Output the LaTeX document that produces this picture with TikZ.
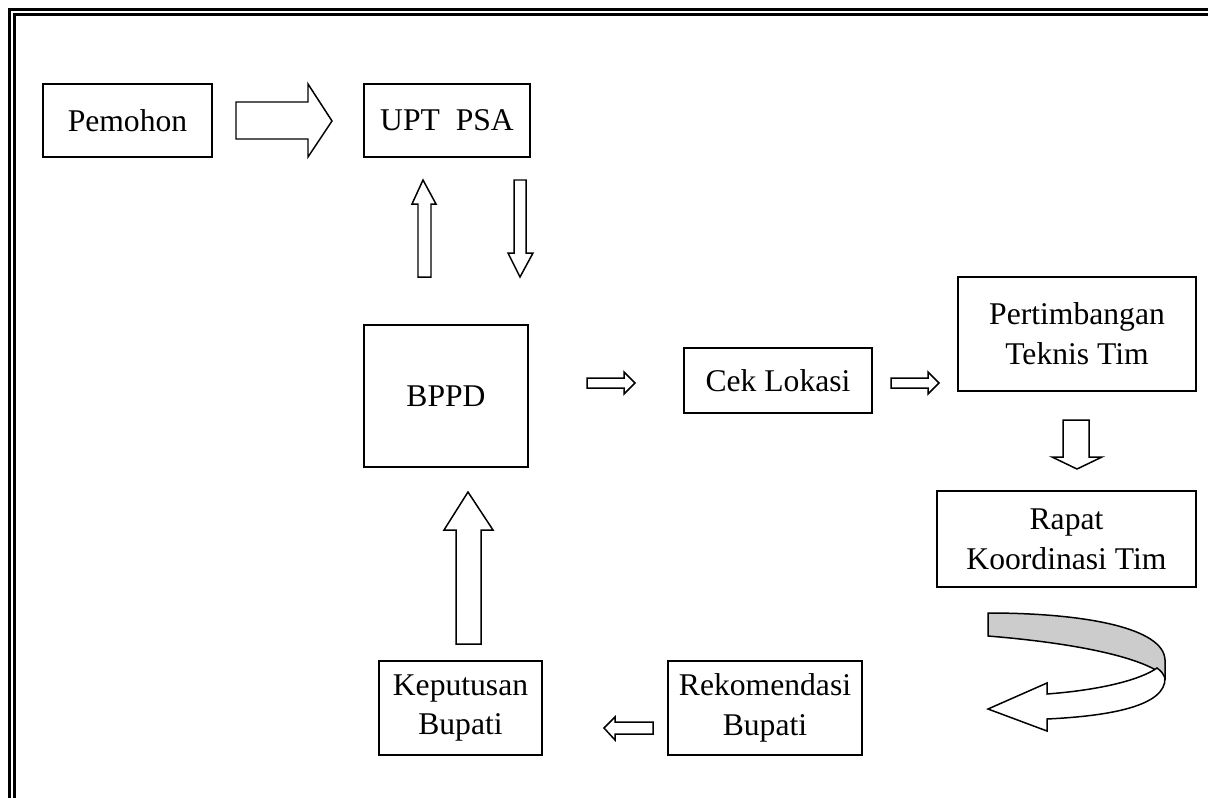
\documentclass[tikz,border=0pt]{standalone}
\usepackage{fontspec}
\setmainfont{Liberation Serif}
\begin{document}
\begin{tikzpicture}[x=0.02cm,y=-0.02cm,
  box/.style={draw, line width=1.1pt, inner sep=0pt, align=center,
    font=\fontsize{18}{22.7}\selectfont},
  blk/.style={draw, line width=0.85pt, fill=white, line join=miter},
  band/.style={draw, line width=0.85pt, fill=black!20}]
\useasboundingbox (0,0) rectangle (1208,798);

% double frame, running off the right and bottom edges
\draw[line width=1.8pt] (9.5,9.5) rectangle (1240,830);
\draw[line width=1.2pt] (14.5,14.5) rectangle (1240,830);

% boxes
\node[box, minimum width=3.38cm, minimum height=1.46cm] (pem) at (127.5,120.5) {Pemohon};
\node[box, minimum width=3.32cm, minimum height=1.46cm] (upt) at (447,120.5) {UPT\ \ PSA};
\node[box, minimum width=3.28cm, minimum height=2.84cm] (bppd) at (446,396) {BPPD};
\node[box, minimum width=3.76cm, minimum height=1.30cm] (cek) at (778,380.5) {Cek Lokasi};
\node[box, minimum width=4.76cm, minimum height=2.28cm] (pert) at (1077,334) {Pertimbangan\\Teknis Tim};
\node[box, minimum width=5.18cm, minimum height=1.92cm] (rapat) at (1066.5,539) {Rapat\\Koordinasi Tim};
\node[box, minimum width=3.88cm, minimum height=1.88cm] (rek) at (765,708) {Rekomendasi\\Bupati};
\node[box, minimum width=3.26cm, minimum height=1.88cm] (kep) at (460.5,708) {Keputusan\\Bupati};

% block arrows
% Pemohon -> UPT PSA
\draw[blk] (236,102) -- (308,102) -- (308,84) -- (332,121) -- (308,157) -- (308,139) -- (236,139) -- cycle;
% BPPD -> UPT PSA
\draw[blk] (418,277) -- (418,204) -- (412,204) -- (423,180) -- (436,204) -- (431,204) -- (431,277) -- cycle;
% UPT PSA -> BPPD
\draw[blk] (514,180) -- (526,180) -- (526,253) -- (533,253) -- (520,277) -- (508,253) -- (514,253) -- cycle;
% BPPD -> Cek Lokasi
\draw[blk] (587,378) -- (624,378) -- (624,372) -- (635,383) -- (624,394) -- (624,388) -- (587,388) -- cycle;
% Cek Lokasi -> Pertimbangan
\draw[blk] (891,378) -- (928,378) -- (928,372) -- (939,383) -- (928,394) -- (928,388) -- (891,388) -- cycle;
% Pertimbangan -> Rapat
\draw[blk] (1063,420) -- (1089,420) -- (1089,457) -- (1102,457) -- (1077,469) -- (1052,457) -- (1063,457) -- cycle;
% Rekomendasi -> Keputusan
\draw[blk] (653,722) -- (615,722) -- (615,717) -- (604,728) -- (615,740) -- (615,734) -- (653,734) -- cycle;
% Keputusan -> BPPD
\draw[blk] (456,644) -- (456,530) -- (444,530) -- (468,492) -- (493,530) -- (481,530) -- (481,644) -- cycle;

% curved ribbon arrow Rapat -> Rekomendasi
\draw[band] (988,613) .. controls (1085,613) and (1164,628) .. (1165,660)
  -- (1165,678) .. controls (1158,666) and (1110,646) .. (988,636) -- cycle;
\draw[blk] (1165,678) .. controls (1166,706) and (1110,716) .. (1047,719)
  -- (1047,731) -- (988,709) -- (1047,683) -- (1047,694)
  .. controls (1100,690) and (1140,680) .. (1157,668)
  .. controls (1162,672) .. (1165,678) -- cycle;
\end{tikzpicture}
\end{document}
